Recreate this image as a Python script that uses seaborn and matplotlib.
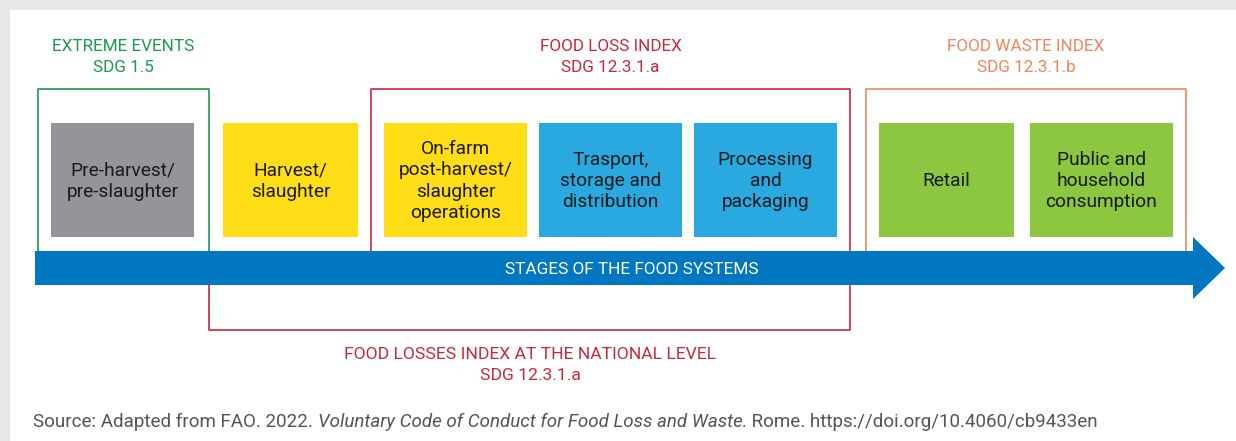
import matplotlib
matplotlib.use('Agg')
import matplotlib.pyplot as plt
import seaborn as sns
from matplotlib.patches import Rectangle, Polygon

sns.set_style('white')
plt.rcParams['font.family'] = ['Roboto', 'DejaVu Sans']

# content
stages = ['Pre-harvest/\npre-slaughter', 'Harvest/\nslaughter',
          'On-farm\npost-harvest/\nslaughter\noperations',
          'Trasport,\nstorage and\ndistribution', 'Processing\nand\npackaging',
          'Retail', 'Public and\nhousehold\nconsumption']
stage_colors = ['#939598', '#ffde17', '#ffde17', '#29a9e0', '#29a9e0', '#8dc63f', '#8dc63f']
stage_left = [51, 223, 384, 539, 694, 879, 1030]
stage_right = [194, 358, 527, 682, 837, 1014, 1173]

groups = ['EXTREME EVENTS\nSDG 1.5', 'FOOD LOSS INDEX\nSDG 12.3.1.a', 'FOOD WASTE INDEX\nSDG 12.3.1.b']
group_colors = ['#1a9a50', '#c8283c', '#f3845a']
group_span = [(38, 209), (371, 850), (866, 1186)]

national = 'FOOD LOSSES INDEX AT THE NATIONAL LEVEL\nSDG 12.3.1.a'
arrow_label = 'STAGES OF THE FOOD SYSTEMS'
src_parts = ['Source: Adapted from FAO. 2022. ',
             'Voluntary Code of Conduct for Food Loss and Waste.',
             ' Rome. https://doi.org/10.4060/cb9433en']

W, H = 1236, 441
fig = plt.figure(figsize=(W / 100, H / 100), dpi=100, facecolor='#e6e7e8')
ax = fig.add_axes([0, 0, 1, 1])
ax.set_xlim(0, W)
ax.set_ylim(H, 0)
ax.axis('off')

ax.add_patch(Rectangle((10, 10), W - 10, H - 10, facecolor='white', edgecolor='none', zorder=0))

top, bot = 123, 237
for lab, col, x0, x1 in zip(stages, stage_colors, stage_left, stage_right):
    ax.add_patch(Rectangle((x0, top), x1 - x0, bot - top, facecolor=col, edgecolor='none', zorder=2))
    ax.text((x0 + x1) / 2, (top + bot) / 2 + 1, lab, ha='center', va='center', fontsize=13.8,
            color='#1a1a1a', linespacing=1.22, zorder=3)

# group frames (open at the bottom, tucked under the arrow)
for lab, col, (x0, x1) in zip(groups, group_colors, group_span):
    ax.plot([x0, x0, x1, x1], [252, 89, 89, 252], color=col, lw=1.2, zorder=1)
    ax.text((x0 + x1) / 2, 57, lab, ha='center', va='center', fontsize=12.3,
            color=col, linespacing=1.5)

# national bracket below the arrow
ax.plot([209, 209, 850, 850], [284, 330, 330, 284], color='#c8283c', lw=1.2, zorder=1)
ax.text(530, 365, national, ha='center', va='center', fontsize=12.6,
        color='#c8283c', linespacing=1.45)

# arrow
ax.add_patch(Polygon([(35, 251), (1193, 251), (1193, 237), (1225, 268),
                      (1193, 299), (1193, 285), (35, 285)],
                     closed=True, facecolor='#0077c0', edgecolor='none', zorder=4))
ax.text(632, 270, arrow_label, ha='center', va='center', fontsize=12.4,
        color='white', zorder=5)

# source line with italic title
fig.canvas.draw()
r = fig.canvas.get_renderer()
x = 33
inv = ax.transData.inverted()
for i, part in enumerate(src_parts):
    t = ax.text(x, 422, part, ha='left', va='center', fontsize=13.5, color='#555555',
                style='italic' if i == 1 else 'normal')
    bb = t.get_window_extent(renderer=r)
    x = inv.transform((bb.x1, bb.y0))[0]

fig.savefig('out.png', dpi=100, facecolor=fig.get_facecolor())
